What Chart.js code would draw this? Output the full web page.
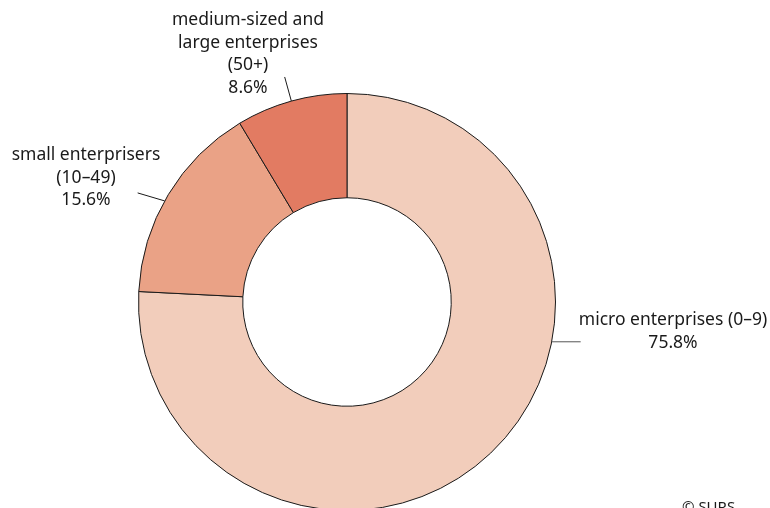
<!DOCTYPE html>
<html>
<head>
<meta charset="utf-8">
<script src="https://cdn.jsdelivr.net/npm/chart.js@4"></script>
<style>
  html, body { margin: 0; padding: 0; background: #fff; overflow: hidden; }
  #wrap { width: 770px; height: 520px; position: relative; }
</style>
</head>
<body>
<div id="wrap"><canvas id="g_ent" width="770" height="520"></canvas></div>
<script>
// data
const categories = ['micro enterprises (0–9)', 'small enterprisers (10–49)', 'medium-sized and large enterprises (50+)'];
const shares = [75.8, 15.6, 8.6];
const colours = ['#F2CDBB', '#EAA286', '#E27B62'];

// label text lines (as printed on the chart)
const labelLines = [
    ['micro enterprises (0–9)', '75.8%'],
    ['small enterprisers', '(10–49)', '15.6%'],
    ['medium-sized and', 'large enterprises', '(50+)', '8.6%']
];

// where each label sits and how its leader line is drawn
// angle: point on the ring (deg from 12 o'clock, null = middle of slice)
// dx/dy: leader end relative to that point (null = radial, len px)
const labelPlace = [
    { angle: 101, len: 29, dx: 29, dy: 0, tx: 673, ty: 320, lineColour: '#555' },
    { angle: 299, len: 30, dx: -27, dy: -8, tx: 86, ty: 155, lineColour: '#1a1a1a' },
    { angle: null, len: 25, dx: null, dy: null, tx: 248, ty: 20, lineColour: '#1a1a1a' }
];

Chart.defaults.font.family = "'Noto Sans', 'DejaVu Sans', sans-serif";
Chart.defaults.font.size = 17;
Chart.defaults.color = '#1a1a1a';

// labels + leader lines drawn next to the ring
const leaderLabels = {
    id: 'leaderLabels',
    afterDatasetsDraw(chart) {
        const ctx = chart.ctx;
        const meta = chart.getDatasetMeta(0);
        ctx.save();
        ctx.font = '17.5px ' + Chart.defaults.font.family;
        ctx.fillStyle = '#1a1a1a';
        ctx.textAlign = 'center';
        ctx.textBaseline = 'middle';
        meta.data.forEach((arc, i) => {
            const p = labelPlace[i];
            const r = arc.outerRadius;
            let a;
            if (p.angle === null) {
                a = ((arc.startAngle + arc.endAngle) / 2) + Math.PI / 2;
            } else {
                a = p.angle * Math.PI / 180;
            }
            const x0 = arc.x + Math.sin(a) * r;
            const y0 = arc.y - Math.cos(a) * r;
            let x1, y1;
            if (p.dx === null) {
                x1 = arc.x + Math.sin(a) * (r + p.len);
                y1 = arc.y - Math.cos(a) * (r + p.len);
            } else {
                x1 = x0 + p.dx;
                y1 = y0 + p.dy;
            }
            ctx.strokeStyle = p.lineColour;
            ctx.lineWidth = 1;
            ctx.beginPath();
            ctx.moveTo(x0, y0);
            ctx.lineTo(x1, y1);
            ctx.stroke();
            labelLines[i].forEach((t, k) => {
                ctx.fillText(t, p.tx, p.ty + k * 22.7);
            });
        });
        // source
        ctx.textAlign = 'left';
        ctx.font = '15px ' + Chart.defaults.font.family;
        ctx.fillText('© SURS', 682, 508);
        ctx.restore();
    }
};

let context = document.getElementById('g_ent').getContext('2d');
let conData = {
    labels: categories,
    datasets: [{
        data: shares,
        backgroundColor: colours,
        borderColor: '#1a1a1a',
        borderWidth: 1
    }]
};
let options = {
    responsive: false,
    animation: false,
    cutout: '50%',
    layout: {
        padding: { left: 138, right: 214, top: 93, bottom: 9 }
    },
    plugins: {
        legend: { display: false },
        tooltip: { enabled: false }
    }
};
let gEnt = new Chart(context, {
    type: 'doughnut',
    data: conData,
    options: options,
    plugins: [leaderLabels]
});
</script>
</body>
</html>
